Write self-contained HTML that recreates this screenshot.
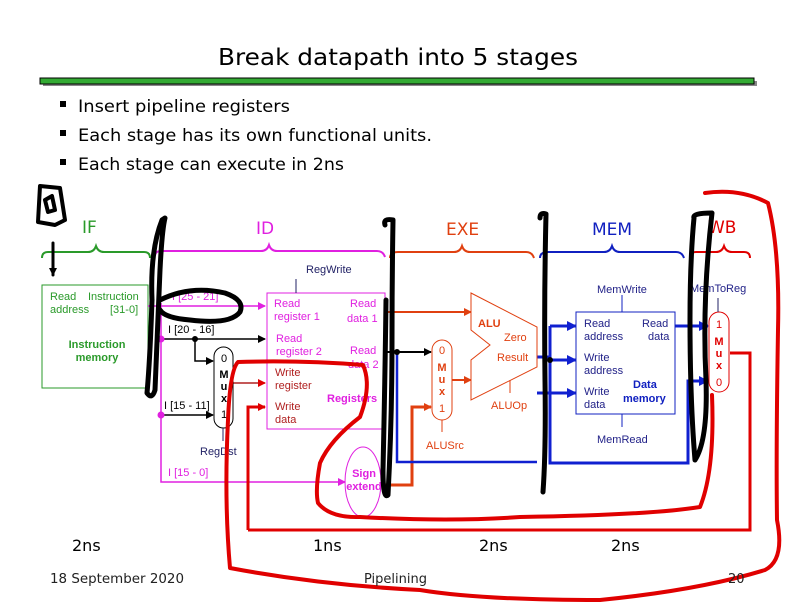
<!DOCTYPE html>
<html><head><meta charset="utf-8"><style>
body{margin:0;background:#fff}
svg{display:block}
text{font-family:"DejaVu Sans","Liberation Sans",sans-serif}
.a text,text.a{font-family:"Liberation Sans",sans-serif;font-size:11px}
</style></head><body>
<svg width="792" height="612" viewBox="0 0 792 612" xmlns="http://www.w3.org/2000/svg">
<defs>
<marker id="mk" markerWidth="8" markerHeight="8" refX="7" refY="4" orient="auto" markerUnits="userSpaceOnUse"><path d="M0,0L8,4L0,8z" fill="#000"/></marker>
<marker id="mm" markerWidth="8" markerHeight="8" refX="7" refY="4" orient="auto" markerUnits="userSpaceOnUse"><path d="M0,0L8,4L0,8z" fill="#e020e0"/></marker>
<marker id="mo" markerWidth="8" markerHeight="8" refX="7" refY="4" orient="auto" markerUnits="userSpaceOnUse"><path d="M0,0L8,4L0,8z" fill="#e04010"/></marker>
<marker id="mb" markerWidth="10" markerHeight="10" refX="9" refY="5" orient="auto" markerUnits="userSpaceOnUse"><path d="M0,0L10,5L0,10z" fill="#1020d0"/></marker>
<marker id="mr" markerWidth="8" markerHeight="8" refX="7" refY="4" orient="auto" markerUnits="userSpaceOnUse"><path d="M0,0L8,4L0,8z" fill="#e00000"/></marker>
</defs>
<text x="398" y="65" font-size="23" text-anchor="middle" textLength="360" lengthAdjust="spacingAndGlyphs">Break datapath into 5 stages</text>
<rect x="43" y="81" width="714" height="5" fill="#888"/>
<rect x="40" y="78" width="714" height="6" fill="#33aa33" stroke="#000" stroke-width="1"/>
<g font-size="17">
<rect x="60" y="101" width="6" height="6"/><text x="78" y="112" textLength="212" lengthAdjust="spacingAndGlyphs">Insert pipeline registers</text>
<rect x="60" y="130" width="6" height="6"/><text x="78" y="141" textLength="354" lengthAdjust="spacingAndGlyphs">Each stage has its own functional units.</text>
<rect x="60" y="159" width="6" height="6"/><text x="78" y="170" textLength="266" lengthAdjust="spacingAndGlyphs">Each stage can execute in 2ns</text>
</g>
<g font-size="17">
<text x="82" y="233" fill="#2a9a2a">IF</text>
<text x="256" y="234" fill="#e020e0">ID</text>
<text x="446" y="235" fill="#e04010">EXE</text>
<text x="592" y="235" fill="#1020c0">MEM</text>
<text x="708" y="233" fill="#e00000">WB</text>
</g>
<g fill="none" stroke-width="2">
<path d="M42,258q0,-6 6,-6h40q6,0 8,-6q2,6 8,6h40q6,0 6,6" stroke="#2a9a2a"/>
<path d="M155,256q0,-5 6,-5h100q6,0 8,-6q2,6 8,6h100q6,0 8,6" stroke="#e020e0"/>
<path d="M390,258q0,-6 8,-6h56q6,0 8,-6q2,6 8,6h56q6,0 8,6" stroke="#e04010"/>
<path d="M540,258q0,-6 8,-6h56q6,0 8,-6q2,6 8,6h56q6,0 8,6" stroke="#1020c0"/>
<path d="M690,258q0,-6 6,-6h20q6,0 8,-6q2,6 8,6h12q6,0 6,6" stroke="#e00000"/>
</g>
<rect x="42" y="285" width="106" height="103" fill="none" stroke="#2a9a2a"/>
<g class="a" fill="#2a9a2a"><text x="50" y="300">Read</text><text x="88" y="300">Instruction</text><text x="50" y="313">address</text><text x="110" y="313">[31-0]</text>
<text x="97" y="348" text-anchor="middle" font-weight="bold">Instruction</text><text x="97" y="361" text-anchor="middle" font-weight="bold">memory</text></g>
<g stroke-width="1.5" fill="none">
<path d="M148,306H265" stroke="#e020e0" marker-end="url(#mm)"/>
<path d="M161,303V482H345" stroke="#e020e0" marker-end="url(#mm)"/>
<path d="M161,339H265" stroke="#000" marker-end="url(#mk)"/>
<path d="M195,339V361H213" stroke="#000" marker-end="url(#mk)"/>
<path d="M161,415H213" stroke="#000" marker-end="url(#mk)"/>
<path d="M233,383H265" stroke="#b02020" marker-end="url(#mr)"/>
<path d="M248,530V407H265" stroke="#e00000" stroke-width="3" marker-end="url(#mr)"/>
<path d="M248,530H750V353H730" stroke="#e00000" stroke-width="3"/>
</g>
<circle cx="161" cy="339" r="3.5" fill="#e020e0"/><circle cx="161" cy="415" r="3.5" fill="#e020e0"/><circle cx="195" cy="339" r="3" fill="#000"/>
<g class="a"><text x="172" y="300" fill="#e020e0">I [25 - 21]</text><text x="168" y="333">I [20 - 16]</text><text x="164" y="409">I [15 - 11]</text><text x="168" y="476" fill="#e020e0">I [15 - 0]</text></g>
<rect x="214" y="347" width="19" height="81" rx="9.5" fill="#fff" stroke="#000"/>
<g class="a" text-anchor="middle"><text x="224" y="362">0</text><text x="224" y="378" font-weight="bold">M</text><text x="224" y="390" font-weight="bold">u</text><text x="224" y="402" font-weight="bold">x</text><text x="224" y="418">1</text></g>
<path d="M223,428V441" stroke="#222266"/><text class="a" x="200" y="455" fill="#222266">RegDst</text>
<rect x="267" y="293" width="118" height="136" fill="none" stroke="#e020e0"/>
<path d="M296,279V293" stroke="#222266"/><text class="a" x="306" y="273" fill="#222266">RegWrite</text>
<g class="a" fill="#e020e0"><text x="274" y="307">Read</text><text x="274" y="320">register 1</text><text x="350" y="307">Read</text><text x="347" y="322">data 1</text>
<text x="276" y="342">Read</text><text x="276" y="355">register 2</text><text x="350" y="354">Read</text><text x="348" y="368">data 2</text>
<text x="327" y="402" font-weight="bold">Registers</text></g>
<g class="a" fill="#b02020"><text x="275" y="376">Write</text><text x="275" y="389">register</text><text x="275" y="410">Write</text><text x="275" y="423">data</text></g>
<ellipse cx="363" cy="482" rx="18" ry="35" fill="none" stroke="#e020e0"/>
<g class="a" fill="#e020e0" font-weight="bold" text-anchor="middle"><text x="364" y="477">Sign</text><text x="364" y="490">extend</text></g>
<g stroke-width="2" fill="none">
<path d="M385,312H471" stroke="#e04010" marker-end="url(#mo)"/>
<path d="M385,352H431" stroke="#000" marker-end="url(#mk)"/>
<path d="M452,380H471" stroke="#e04010" marker-end="url(#mo)"/>
<path d="M381,485H412V407H431" stroke="#e04010" stroke-width="3" marker-end="url(#mo)"/>
<path d="M397,352V462H537" stroke="#1020d0" stroke-width="2.5"/>
<path d="M537,357H550" stroke="#1020d0" stroke-width="3"/>
<path d="M550,326V463H688V381H708" stroke="#1020d0" stroke-width="3" marker-end="url(#mb)"/>
<path d="M550,326H576" stroke="#1020d0" stroke-width="3" marker-end="url(#mb)"/>
<path d="M550,360H576" stroke="#1020d0" stroke-width="3" marker-end="url(#mb)"/>
<path d="M537,393H576" stroke="#1020d0" stroke-width="3" marker-end="url(#mb)"/>
<path d="M675,326H708" stroke="#1020d0" stroke-width="3" marker-end="url(#mb)"/>
</g>
<circle cx="550" cy="360" r="3" fill="#000"/><circle cx="397" cy="352" r="3" fill="#000"/>
<path d="M471,293L537,327V367L471,400V360L490,345L471,330Z" fill="#fff" stroke="#e04010"/>
<g class="a" fill="#e04010"><text x="478" y="327" font-weight="bold">ALU</text><text x="504" y="341">Zero</text><text x="497" y="361">Result</text><text x="491" y="409">ALUOp</text><text x="426" y="449">ALUSrc</text></g>
<path d="M510,380V393" stroke="#e04010"/>
<rect x="432" y="340" width="20" height="80" rx="10" fill="#fff" stroke="#e04010"/>
<g class="a" fill="#e04010" text-anchor="middle"><text x="442" y="354">0</text><text x="442" y="371" font-weight="bold">M</text><text x="442" y="383" font-weight="bold">u</text><text x="442" y="395" font-weight="bold">x</text><text x="442" y="412">1</text></g>
<path d="M442,420V432" stroke="#e04010"/>
<rect x="576" y="312" width="99" height="102" fill="#fff" stroke="#1020c0"/>
<path d="M622,295V312M622,414V427" stroke="#1020c0"/>
<g class="a" fill="#222288"><text x="597" y="293">MemWrite</text><text x="597" y="443">MemRead</text>
<text x="584" y="327">Read</text><text x="584" y="340">address</text><text x="642" y="327">Read</text><text x="648" y="340">data</text>
<text x="584" y="361">Write</text><text x="584" y="374">address</text><text x="584" y="395">Write</text><text x="584" y="408">data</text></g>
<g class="a" fill="#1020c0" font-weight="bold"><text x="633" y="388">Data</text><text x="623" y="402">memory</text></g>
<rect x="709" y="312" width="20" height="80" rx="10" fill="#fff" stroke="#e00000"/>
<path d="M718,298V312" stroke="#222266"/><text class="a" x="690" y="292" fill="#222288">MemToReg</text>
<g class="a" fill="#e00000" text-anchor="middle"><text x="719" y="328">1</text><text x="719" y="345" font-weight="bold">M</text><text x="719" y="357" font-weight="bold">u</text><text x="719" y="369" font-weight="bold">x</text><text x="719" y="386">0</text></g>
<g fill="none" stroke="#e00000" stroke-width="4" stroke-linecap="round" stroke-linejoin="round">
<path d="M705,193Q740,188 768,203Q780,250 778,330Q776,450 777,520Q785,560 765,570Q700,590 600,600Q480,600 420,590Q320,585 230,568Q224,500 228,420Q230,370 238,362Q300,360 363,365Q372,385 360,417Q330,440 320,463Q315,490 318,503Q330,518 360,517Q450,522 520,517Q650,515 700,507Q715,470 712,395"/>
</g>
<g fill="none" stroke="#000" stroke-width="5" stroke-linecap="round" stroke-linejoin="round">
<path d="M40,186L38,222L55,225L65,220L60,188ZM45,200L52,196L55,210L48,212Z" stroke-width="4"/>
<path d="M53,243V275" stroke-width="3" marker-end="url(#mk)"/>
<path d="M162,220Q150,250 152,300Q150,360 147,393Q152,400 155,390Q158,320 160,270Q162,230 165,218Z"/>
<path d="M160,300Q190,285 225,293Q245,300 240,312Q230,325 190,320Q165,318 160,310"/>
<path d="M385,225Q383,218 393,220Q392,280 392,340Q392,420 388,495Q383,500 383,470Q385,380 386,300"/>
<path d="M540,218Q540,212 546,214Q544,300 545,380Q546,450 543,492"/>
<path d="M694,218Q692,213 712,213Q702,300 706,380Q708,440 695,460Q690,400 690,320Q690,260 694,218"/>
</g>
<g font-size="16"><text x="72" y="551">2ns</text><text x="313" y="551">1ns</text><text x="479" y="551">2ns</text><text x="611" y="551">2ns</text></g>
<g font-size="13" fill="#222"><text x="50" y="583" textLength="134" lengthAdjust="spacingAndGlyphs">18 September 2020</text><text x="364" y="583">Pipelining</text><text x="728" y="583">20</text></g>
</svg>
</body></html>
